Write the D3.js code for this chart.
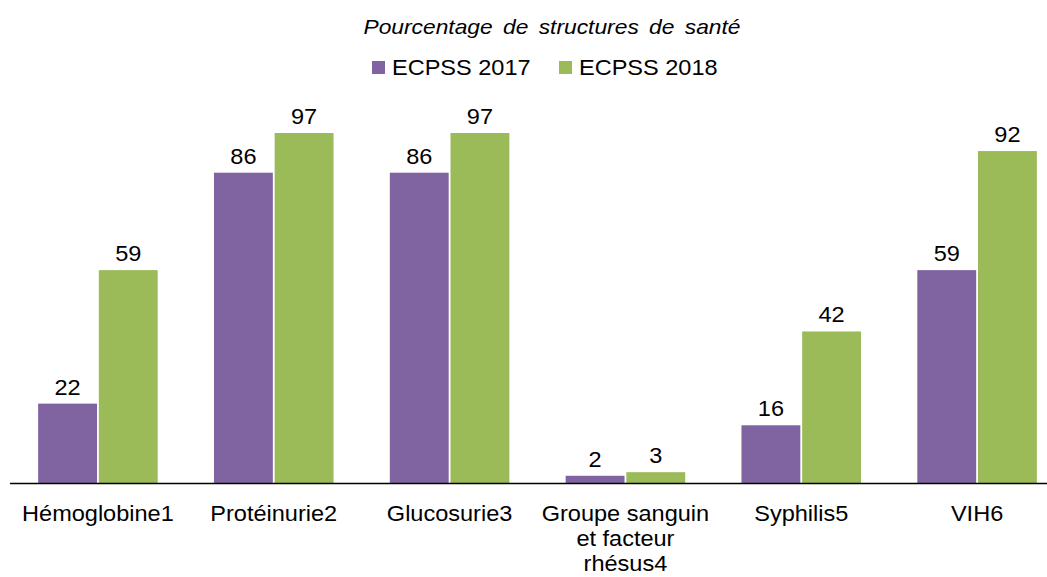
<!DOCTYPE html>
<html>
<head>
<meta charset="utf-8">
<script src="https://cdn.jsdelivr.net/npm/d3@7"></script>
<style>
  body { margin: 0; background: #fff; }
  text { font-family: "Liberation Sans", Arial, sans-serif; fill: #000; }
</style>
</head>
<body>
<div id="chart"></div>
<script>
// Chart data
let categories = ["Hémoglobine1", "Protéinurie2", "Glucosurie3", "Groupe sanguin et facteur rhésus4", "Syphilis5", "VIH6"];
let categoryLines = [["Hémoglobine1"], ["Protéinurie2"], ["Glucosurie3"], ["Groupe sanguin", "et facteur", "rhésus4"], ["Syphilis5"], ["VIH6"]];
let seriesNames = ["ECPSS 2017", "ECPSS 2018"];
let values2017 = [22, 86, 86, 2, 16, 59];
let values2018 = [59, 97, 97, 3, 42, 92];
let colors = ["#8064A2", "#9BBB59"];

let width = 1047, height = 577;
let baseline = 483;
// The source text is slightly stretched horizontally
let sx = 1.07;

function place(x, y) {
    return "translate(" + x + "," + y + ") scale(" + sx + ",1)";
}

let svg = d3.select("#chart").append("svg")
    .attr("width", width)
    .attr("height", height);

// Band scale over the plot area, one group per category
let x0 = d3.scaleBand()
    .domain(categories)
    .range([10, 1065])
    .paddingInner(0.32)
    .paddingOuter(0.16);

let x1 = d3.scaleBand()
    .domain(seriesNames)
    .range([0, x0.bandwidth()])
    .paddingInner(0.03);

let y = d3.scaleLinear()
    .domain([0, 100])
    .range([baseline, baseline - 360.8]);

let rows = categories.map(function(c, i) {
    return [
        {cat: c, series: seriesNames[0], value: values2017[i]},
        {cat: c, series: seriesNames[1], value: values2018[i]}
    ];
});

let groups = svg.selectAll("g.group")
    .data(rows)
    .enter()
    .append("g")
    .attr("class", "group")
    .attr("transform", function(d) { return "translate(" + x0(d[0].cat) + ",0)"; });

groups.selectAll("rect")
    .data(function(d) { return d; })
    .enter()
    .append("rect")
    .attr("x", function(d) { return x1(d.series); })
    .attr("y", function(d) { return y(d.value); })
    .attr("width", x1.bandwidth())
    .attr("height", function(d) { return baseline - y(d.value); })
    .attr("fill", function(d, i) { return colors[i]; });

groups.selectAll("text.val")
    .data(function(d) { return d; })
    .enter()
    .append("text")
    .attr("class", "val")
    .attr("transform", function(d) {
        return place(x1(d.series) + x1.bandwidth() / 2, y(d.value) - 9);
    })
    .attr("text-anchor", "middle")
    .attr("font-size", 22)
    .text(function(d) { return d.value; });

// Baseline axis
svg.append("line")
    .attr("x1", 10).attr("x2", width)
    .attr("y1", baseline + 0.5).attr("y2", baseline + 0.5)
    .attr("stroke", "#000")
    .attr("stroke-width", 1.3);

// Category labels, wrapped
let labels = svg.selectAll("text.cat")
    .data(categories)
    .enter()
    .append("text")
    .attr("class", "cat")
    .attr("text-anchor", "middle")
    .attr("font-size", 22)
    .attr("transform", function(d) { return place(x0(d) + x0.bandwidth() / 2, 521); });

labels.each(function(d, i) {
    let t = d3.select(this);
    categoryLines[i].forEach(function(line, j) {
        t.append("tspan").attr("x", 0).attr("y", j * 25).text(line);
    });
});

// Title (stretched, with a bit of extra word spacing in the source)
svg.append("text")
    .attr("transform", "translate(552,34) scale(1.14,1)")
    .attr("text-anchor", "middle")
    .attr("font-size", 20)
    .attr("font-style", "italic")
    .attr("word-spacing", 3.5)
    .text("Pourcentage de structures de santé");

// Legend
let legendX = [372, 559];
let legend = svg.selectAll("g.legend")
    .data(seriesNames)
    .enter()
    .append("g")
    .attr("class", "legend")
    .attr("transform", function(d, i) { return "translate(" + legendX[i] + ",61)"; });

legend.append("rect")
    .attr("width", 13).attr("height", 13)
    .attr("fill", function(d, i) { return colors[i]; });

legend.append("text")
    .attr("transform", place(20, 14))
    .attr("font-size", 22)
    .text(function(d) { return d; });
</script>
</body>
</html>
